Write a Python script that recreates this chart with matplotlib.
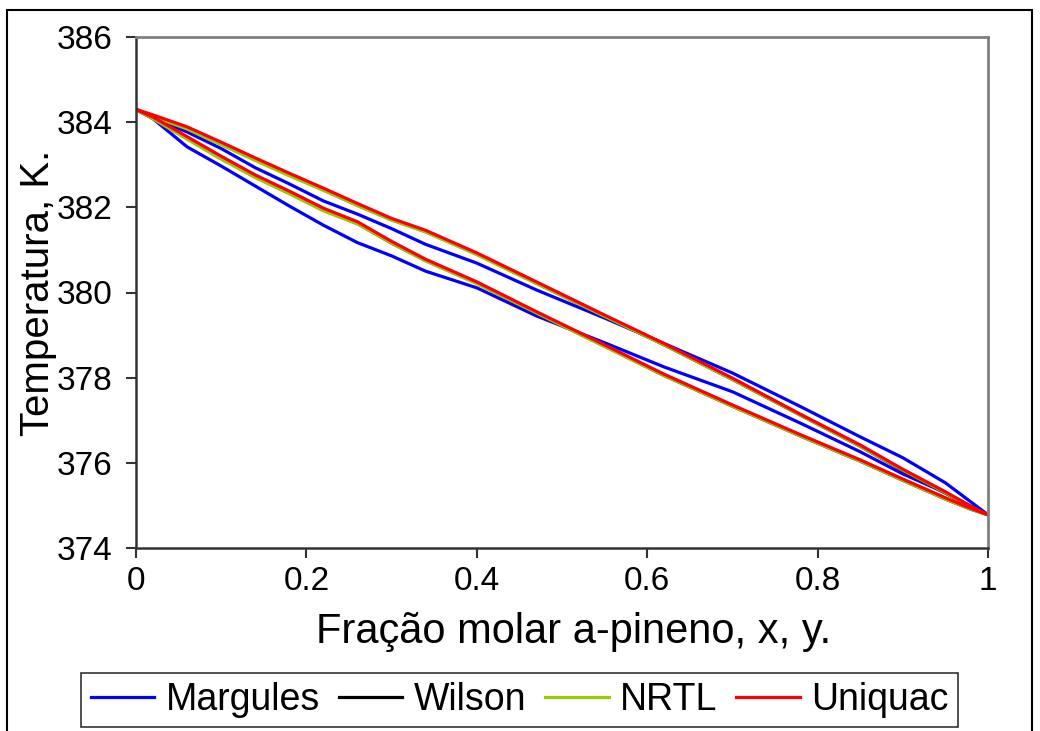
import matplotlib
matplotlib.use("Agg")
import matplotlib.pyplot as plt
from matplotlib.patches import Rectangle

plt.rcParams['font.family'] = ['Liberation Sans', 'DejaVu Sans']

# Composition grid (mole fraction of a-pinene)
x = [0.0, 0.02, 0.06, 0.10, 0.14, 0.18, 0.22, 0.26, 0.30, 0.34, 0.40,
     0.47, 0.55, 0.62, 0.70, 0.78, 0.85, 0.90, 0.95, 0.98, 1.0]

# Temperatures (K): upper (dew) and lower (bubble) curves for each model
margules_dew = [384.30, 384.10, 383.77, 383.38, 382.93, 382.55, 382.15, 381.84, 381.50, 381.13, 380.69,
                380.06, 379.40, 378.80, 378.11, 377.32, 376.61, 376.12, 375.53, 375.08, 374.78]
margules_bub = [384.30, 384.08, 383.42, 382.97, 382.50, 382.03, 381.58, 381.17, 380.86, 380.50, 380.11,
                379.45, 378.82, 378.25, 377.67, 376.93, 376.26, 375.74, 375.30, 374.98, 374.78]
wilson_dew   = [384.30, 384.14, 383.85, 383.49, 383.12, 382.76, 382.41, 382.05, 381.71, 381.43, 380.90,
                380.22, 379.44, 378.77, 377.96, 377.12, 376.39, 375.82, 375.29, 374.96, 374.78]
wilson_bub   = [384.30, 384.09, 383.62, 383.15, 382.71, 382.33, 381.93, 381.62, 381.16, 380.75, 380.22,
                379.52, 378.74, 378.05, 377.33, 376.63, 376.04, 375.59, 375.15, 374.91, 374.78]
nrtl_dew     = [384.30, 384.13, 383.84, 383.47, 383.10, 382.74, 382.40, 382.04, 381.70, 381.42, 380.89,
                380.21, 379.44, 378.77, 377.96, 377.12, 376.39, 375.83, 375.30, 374.96, 374.78]
nrtl_bub     = [384.30, 384.08, 383.60, 383.13, 382.70, 382.32, 381.92, 381.61, 381.16, 380.74, 380.21,
                379.52, 378.73, 378.05, 377.33, 376.63, 376.04, 375.59, 375.15, 374.91, 374.78]
uniquac_dew  = [384.30, 384.17, 383.89, 383.53, 383.16, 382.80, 382.45, 382.09, 381.74, 381.46, 380.93,
                380.25, 379.47, 378.80, 377.99, 377.14, 376.42, 375.85, 375.32, 374.98, 374.78]
uniquac_bub  = [384.30, 384.12, 383.66, 383.20, 382.76, 382.38, 381.98, 381.66, 381.20, 380.78, 380.25,
                379.55, 378.77, 378.08, 377.36, 376.66, 376.07, 375.62, 375.18, 374.93, 374.78]

models = ["Margules", "Wilson", "NRTL", "Uniquac"]
colors = ["#0000FF", "#000000", "#99CC00", "#FF0000"]
curves = [(margules_dew, margules_bub), (wilson_dew, wilson_bub),
          (nrtl_dew, nrtl_bub), (uniquac_dew, uniquac_bub)]

yticks = [374, 376, 378, 380, 382, 384, 386]
xticks = [0, 0.2, 0.4, 0.6, 0.8, 1]
xticklabels = ["0", "0.2", "0.4", "0.6", "0.8", "1"]

fig = plt.figure(figsize=(10.4, 7.31), dpi=100)
ax = fig.add_axes([136/1040, 1 - 548/731, (988-136)/1040, (548-37)/731])

for name, col, (dew, bub) in zip(models, colors, curves):
    ax.plot(x, dew, color=col, lw=2.3, label=name)
    ax.plot(x, bub, color=col, lw=2.3)

ax.set_xlim(0, 1)
ax.set_ylim(374, 386)
ax.set_xticks(xticks)
ax.set_xticklabels(xticklabels)
ax.set_yticks(yticks)
ax.tick_params(axis='both', direction='out', length=7, width=1.5, labelsize=24, color='#333333')
ax.tick_params(axis='y', pad=10)
ax.tick_params(axis='x', pad=6)
for s in ['top', 'right']:
    ax.spines[s].set_color('#808080')
    ax.spines[s].set_linewidth(2)
for s in ['left', 'bottom']:
    ax.spines[s].set_color('#333333')
    ax.spines[s].set_linewidth(1.8)

ax.set_xlabel("Fração molar a-pineno, x, y.", fontsize=30, labelpad=11)
ax.xaxis.label.set_x(0.514)
ax.set_ylabel("Temperatura, K.", fontsize=29, labelpad=0)

leg = fig.legend(loc='center', bbox_to_anchor=(519.5/1040, 1 - 700/731), ncol=4,
                 fontsize=27, frameon=True, fancybox=False, handlelength=1.7,
                 handletextpad=0.3, columnspacing=0.5, borderpad=0.25)
leg.get_frame().set_edgecolor('#000000')
leg.get_frame().set_linewidth(1.2)

fig.patches.append(Rectangle((7/1040, -0.05), (1032-7)/1040, 1.05 - 10/731,
                             transform=fig.transFigure, fill=False,
                             edgecolor='#000000', lw=1.5))

fig.savefig("out.png", dpi=100)
